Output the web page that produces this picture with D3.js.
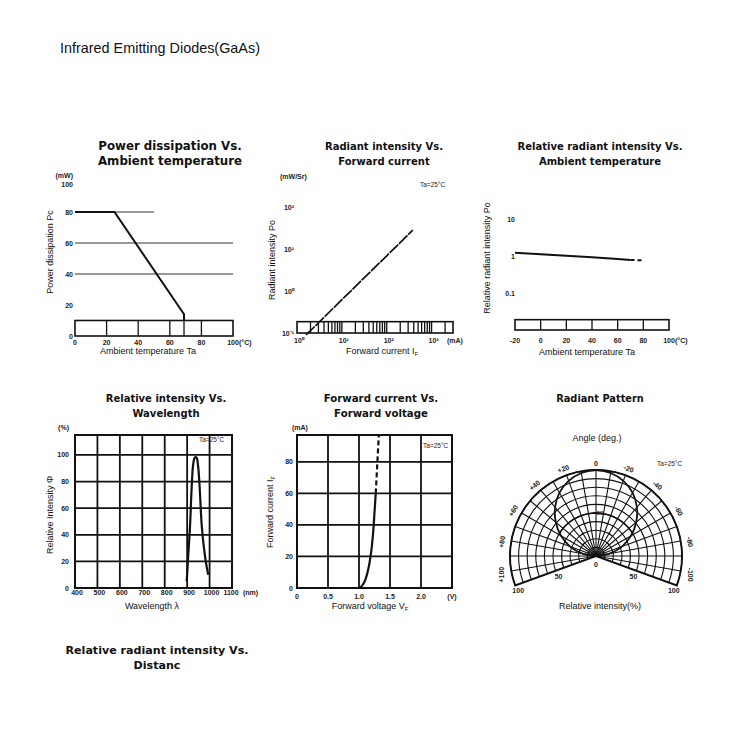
<!DOCTYPE html>
<html>
<head>
<meta charset="utf-8">
<script src="https://cdn.jsdelivr.net/npm/d3@7"></script>
<style>
  html, body { margin: 0; padding: 0; background: #fff; }
  svg { display: block; }
  .title { font-family: 'DejaVu Sans', Verdana, sans-serif; font-weight: bold; fill: #111; }
  .tick { font-family: 'Liberation Sans', Arial, sans-serif; font-size: 7px; font-weight: bold; fill: #222; }
  .label { font-family: 'Liberation Sans', Arial, sans-serif; font-size: 9px; fill: #111; }
  .note { font-family: 'Liberation Sans', Arial, sans-serif; font-size: 6.5px; fill: #222; }
</style>
</head>
<body>
<svg id="chart" width="750" height="736"></svg>
<script>
// ---- Power dissipation vs ambient temperature
const pdTicksX = [0, 20, 40, 60, 80, 100]
const pdTicksY = [0, 20, 40, 60, 80, 100]
const pdGrid = [[80, 0, 50], [60, 0, 100], [40, 0, 100]] // level, from, to
const pdBoxTop = 10
const pdBoxDividers = [20, 40, 60, 69, 80]
const pdCurve = [[0, 80], [25, 80], [69, 14], [69, 10]]

// ---- Radiant intensity vs forward current (log / log)
const riTicksX = [1, 10, 100, 1000]
const riTickLabelsX = ['10⁰', '10¹', '10²', '10³']
const riTicksY = [0.1, 1, 10, 100]
const riTickLabelsY = ['10⁻¹', '10⁰', '10¹', '10²']
const riBoxTop = 0.186
const riCurve = [[1.6, 0.09], [10, 0.62], [100, 6.9], [380, 28]]

// ---- Relative radiant intensity vs ambient temperature
const rtTicksX = [-20, 0, 20, 40, 60, 80, 100]
const rtTicksY = [0.1, 1, 10]
const rtBoxTop = 0.019
const rtBoxDividers = [0, 20, 40, 60, 80]
const rtCurve = [[-20, 1.22], [0, 1.11], [20, 1.01], [40, 0.92], [60, 0.83], [70, 0.78]]
const rtCurveDashed = [[70, 0.78], [80, 0.76]]

// ---- Relative intensity vs wavelength
const wlTicksX = [400, 500, 600, 700, 800, 900, 1000, 1100]
const wlTicksY = [0, 20, 40, 60, 80, 100]
const wlCurve = [[898, 5], [905, 25], [913, 47], [920, 75], [927, 93], [934, 98], [942, 98],
  [948, 93], [955, 78], [965, 47], [975, 30], [985, 18], [994, 10]]

// ---- Forward current vs forward voltage
const fvTicksX = [0, 0.5, 1.0, 1.5, 2.0]
const fvTickLabelsX = ['0', '0.5', '1.0', '1.5', '2.0']
const fvTicksY = [0, 20, 40, 60, 80]
const fvCurve = [[1.0, 0], [1.05, 1.5], [1.1, 5], [1.15, 12], [1.2, 24], [1.23, 36], [1.25, 48], [1.27, 60]]
const fvCurveDashed = [[1.27, 60], [1.29, 75], [1.31, 90], [1.32, 97]]

// ---- Radiant pattern (angle in deg, + = left)
const rpAngles = [-90, -80, -70, -60, -50, -40, -30, -20, -10, 0, 10, 20, 30, 40, 50, 60, 70, 80, 90]
const rpIntensity = [0, 16, 32, 47, 61, 74, 85, 93, 98, 100, 98, 93, 85, 74, 61, 47, 32, 16, 0]
const rpRings = [10, 20, 30, 40, 50, 60, 70, 80, 90, 100]
const rpSpokes = [-100, -90, -80, -70, -60, -50, -40, -30, -20, -10, 0, 10, 20, 30, 40, 50, 60, 70, 80, 90, 100]
const rpLabelAngles = [100, 80, 60, 40, 20, 0, -20, -40, -60, -80, -100]
const rpEdge = 110

const svg = d3.select('#chart')
const ink = '#111'
svg.append('rect').attr('width', 750).attr('height', 736).attr('fill', '#fff')

function text(g, x, y, str, cls, opts = {}) {
  const t = g.append('text')
    .attr('class', cls)
    .attr('x', x)
    .attr('y', y)
    .attr('text-anchor', opts.anchor || 'middle')
    .text(str)
  if (opts.size) t.style('font-size', opts.size + 'px')
  if (opts.rotate != null) t.attr('transform', `rotate(${opts.rotate},${x},${y})`)
  return t
}

// text with a subscript tail, e.g. I + F
function subText(g, x, y, main, sub, opts = {}) {
  const t = text(g, x, y, main, 'label', opts)
  t.append('tspan').attr('dy', 2).style('font-size', '6px').text(sub)
  return t
}

function title(lines, cx, cy, size) {
  lines.forEach((l, i) => text(svg, cx, cy + i * 15.3, l, 'title', { size }))
}

function plotLine(g, data, x, y, opts = {}) {
  const line = d3.line().x(d => x(d[0])).y(d => y(d[1]))
  if (opts.curve) line.curve(opts.curve)
  return g.append('path')
    .datum(data)
    .attr('d', line)
    .attr('fill', 'none')
    .attr('stroke', ink)
    .attr('stroke-width', opts.width || 2)
    .attr('stroke-dasharray', opts.dash || null)
}

// strip box at the bottom of the first three charts
function stripBox(g, x, y, x0, x1, yTop, yBottom, dividers) {
  g.append('rect')
    .attr('x', x(x0)).attr('y', y(yTop))
    .attr('width', x(x1) - x(x0)).attr('height', y(yBottom) - y(yTop))
    .attr('fill', 'none').attr('stroke', ink).attr('stroke-width', 1.6)
  g.selectAll('.divider').data(dividers).enter().append('line')
    .attr('class', 'divider')
    .attr('x1', d => x(d)).attr('x2', d => x(d))
    .attr('y1', y(yTop)).attr('y2', y(yBottom))
    .attr('stroke', ink).attr('stroke-width', 1.3)
}

// full grid with frame (charts 4 and 5)
function gridFrame(g, x, y, ticksX, ticksY) {
  const [xa, xb] = x.range()
  const [ya, yb] = y.range()
  g.selectAll('.vgrid').data(ticksX).enter().append('line')
    .attr('x1', d => x(d)).attr('x2', d => x(d)).attr('y1', ya).attr('y2', yb)
    .attr('stroke', ink).attr('stroke-width', 1.8)
  g.selectAll('.hgrid').data(ticksY).enter().append('line')
    .attr('x1', xa).attr('x2', xb).attr('y1', d => y(d)).attr('y2', d => y(d))
    .attr('stroke', ink).attr('stroke-width', 1.8)
  g.append('rect').attr('x', xa).attr('y', yb).attr('width', xb - xa).attr('height', ya - yb)
    .attr('fill', 'none').attr('stroke', ink).attr('stroke-width', 2)
}

// ---------- page title
text(svg, 60, 53, 'Infrared Emitting Diodes(GaAs)', 'label', { anchor: 'start', size: 14.4 })

// ---------- 1. Power dissipation
title(['Power dissipation Vs.', 'Ambient temperature'], 170, 150, 11.8)
{
  const g = svg.append('g').attr('class', 'chart-pd')
  const x = d3.scaleLinear().domain([0, 100]).range([75, 233])
  const y = d3.scaleLinear().domain([0, 100]).range([336, 181])
  g.selectAll('.grid').data(pdGrid).enter().append('line')
    .attr('x1', d => x(d[1])).attr('x2', d => x(d[2]))
    .attr('y1', d => y(d[0])).attr('y2', d => y(d[0]))
    .attr('stroke', '#333').attr('stroke-width', 1)
  stripBox(g, x, y, 0, 100, pdBoxTop, 0, pdBoxDividers)
  plotLine(g, pdCurve, x, y, { width: 2 })
  pdTicksY.forEach(v => text(g, 73, y(v) + 2.5 + (v === 100 ? 3 : 0), v, 'tick', { anchor: 'end' }))
  pdTicksX.forEach(v => text(g, x(v), 345, v, 'tick'))
  text(g, x(100) + 6, 345, '(°C)', 'tick', { anchor: 'start' })
  text(g, 73, 178, '(mW)', 'tick', { anchor: 'end' })
  text(g, 53, 252, 'Power dissipation   Pc', 'label', { rotate: -90 })
  text(g, 148, 354, 'Ambient temperature    Ta', 'label')
}

// ---------- 2. Radiant intensity
title(['Radiant intensity Vs.', 'Forward current'], 384, 150, 10)
{
  const g = svg.append('g').attr('class', 'chart-ri')
  const x = d3.scaleLog().domain([1, 3000]).range([297, 453])
  const y = d3.scaleLog().domain([0.1, 100]).range([333, 207])
  const minor = x.ticks().filter(d => d > 1 && d < 3000)
  stripBox(g, x, y, 1, 3000, riBoxTop, 0.1, minor)
  plotLine(g, riCurve, x, y, { width: 1.7, dash: '12 1' })
  riTicksY.forEach((v, i) => text(g, 294, y(v) + 2.5, riTickLabelsY[i], 'tick', { anchor: 'end' }))
  riTicksX.forEach((v, i) => text(g, x(v) + 2, 343, riTickLabelsX[i], 'tick'))
  text(g, 447, 343, '(mA)', 'tick', { anchor: 'start' })
  text(g, 280, 179, '(mW/Sr)', 'tick', { anchor: 'start' })
  text(g, 420, 187, 'Ta=25°C', 'note', { anchor: 'start' })
  text(g, 275, 260, 'Radiant  intensity   Po', 'label', { rotate: -90 })
  subText(g, 382, 354, 'Forward current   I', 'F')
}

// ---------- 3. Relative radiant intensity vs temperature
title(['Relative radiant intensity Vs.', 'Ambient temperature'], 600, 150, 10)
{
  const g = svg.append('g').attr('class', 'chart-rt')
  const x = d3.scaleLinear().domain([-20, 100]).range([515, 669])
  const y = d3.scaleLog().domain([0.01, 100]).range([330, 182])
  stripBox(g, x, y, -20, 100, rtBoxTop, 0.01, rtBoxDividers)
  plotLine(g, rtCurve, x, y, { width: 2 })
  plotLine(g, rtCurveDashed, x, y, { width: 2, dash: '4 3' })
  rtTicksY.forEach(v => text(g, 515, y(v) + 2.5, v, 'tick', { anchor: 'end' }))
  rtTicksX.forEach(v => text(g, x(v), 343, v, 'tick'))
  text(g, x(100) + 6, 343, '(°C)', 'tick', { anchor: 'start' })
  text(g, 490, 258, 'Relative radiant intensity   Po', 'label', { rotate: -90 })
  text(g, 587, 355, 'Ambient temperature    Ta', 'label')
}

// ---------- 4. Relative intensity vs wavelength
title(['Relative intensity Vs.', 'Wavelength'], 166, 402, 10)
{
  const g = svg.append('g').attr('class', 'chart-wl')
  const x = d3.scaleLinear().domain([400, 1100]).range([75, 232])
  const y = d3.scaleLinear().domain([0, 115]).range([588, 435])
  gridFrame(g, x, y, wlTicksX, wlTicksY)
  plotLine(g, wlCurve, x, y, { width: 2.2, curve: d3.curveCatmullRom })
  wlTicksY.forEach(v => text(g, 69, y(v) + 2.5, v, 'tick', { anchor: 'end' }))
  wlTicksX.forEach(v => text(g, x(v) + (v === 1100 ? -1 : 2), 595, v, 'tick'))
  text(g, 243, 595, '(nm)', 'tick', { anchor: 'start' })
  text(g, 69, 430, '(%)', 'tick', { anchor: 'end' })
  text(g, 199, 442, 'Ta=25°C', 'note', { anchor: 'start' })
  text(g, 53, 515, 'Relative Intensity   Φ', 'label', { rotate: -90 })
  text(g, 152, 609, 'Wavelength   λ', 'label')
}

// ---------- 5. Forward current vs forward voltage
title(['Forward current Vs.', 'Forward voltage'], 381, 402, 10.2)
{
  const g = svg.append('g').attr('class', 'chart-fv')
  const x = d3.scaleLinear().domain([0, 2.5]).range([297, 452])
  const y = d3.scaleLinear().domain([0, 97]).range([588, 435])
  gridFrame(g, x, y, fvTicksX, fvTicksY)
  plotLine(g, fvCurve, x, y, { width: 2.2, curve: d3.curveCatmullRom })
  plotLine(g, fvCurveDashed, x, y, { width: 2.2, dash: '5 3' })
  fvTicksY.forEach(v => text(g, 293, y(v) + 2.5, v, 'tick', { anchor: 'end' }))
  fvTicksX.forEach((v, i) => text(g, x(v), 599, fvTickLabelsX[i], 'tick'))
  text(g, x(2.5), 599, '(V)', 'tick')
  text(g, 292, 430, '(mA)', 'tick', { anchor: 'start' })
  text(g, 423, 448, 'Ta=25°C', 'note', { anchor: 'start' })
  subText(g, 273, 512, 'Forward current   I', 'F', { rotate: -90 })
  subText(g, 370, 609, 'Forward voltage   V', 'F')
}

// ---------- 6. Radiant pattern
title(['Radiant Pattern'], 600, 402, 9.8)
{
  const cx = 596
  const cy = 556
  const r = d3.scaleLinear().domain([0, 100]).range([0, 86])
  const rad = d => d * Math.PI / 180
  const g = svg.append('g').attr('class', 'chart-rp').attr('transform', `translate(${cx},${cy})`)

  // rings
  g.selectAll('.ring').data(rpRings).enter().append('path')
    .attr('d', d => d3.arc()({ innerRadius: r(d), outerRadius: r(d), startAngle: -rad(rpEdge), endAngle: rad(rpEdge) }))
    .attr('fill', 'none').attr('stroke', ink).attr('stroke-width', 1.1)
  // spokes (d3 angle: 0 at top, clockwise; our + angle is to the left)
  g.selectAll('.spoke').data(rpSpokes).enter().append('line')
    .attr('x1', 0).attr('y1', 0)
    .attr('x2', d => r(100) * Math.sin(rad(-d)))
    .attr('y2', d => -r(100) * Math.cos(rad(-d)))
    .attr('stroke', ink).attr('stroke-width', 1.1)
  // fan outline
  g.append('path')
    .attr('d', d3.arc()({ innerRadius: 0, outerRadius: r(100), startAngle: -rad(rpEdge), endAngle: rad(rpEdge) }))
    .attr('fill', 'none').attr('stroke', ink).attr('stroke-width', 1.9)
  // half intensity arc
  g.append('path')
    .attr('d', d3.arc()({ innerRadius: r(50), outerRadius: r(50), startAngle: -rad(60), endAngle: rad(60) }))
    .attr('fill', 'none').attr('stroke', ink).attr('stroke-width', 1.5)
  // pattern
  const pattern = rpAngles.map((a, i) => [a, rpIntensity[i]])
  g.append('path')
    .datum(pattern)
    .attr('d', d3.lineRadial().angle(d => rad(-d[0])).radius(d => r(d[1])).curve(d3.curveCardinal))
    .attr('fill', 'none').attr('stroke', ink).attr('stroke-width', 1.8)

  // angle labels
  rpLabelAngles.forEach(a => {
    const rr = r(100) + 7
    const px = rr * Math.sin(rad(-a))
    const py = -rr * Math.cos(rad(-a)) + 2.5
    const rot = Math.max(-90, Math.min(90, -a))
    const str = a > 0 ? '+' + a : String(a)
    text(g, px, py, str, 'tick', { rotate: rot })
  })
  // intensity labels along the edges
  ;[50, 100].forEach(v => {
    ;[-1, 1].forEach(s => {
      const px = s * r(v) * Math.sin(rad(rpEdge)) - s * 3
      const py = -r(v) * Math.cos(rad(rpEdge)) + 8
      text(g, px, py, v, 'tick')
    })
  })
  text(g, 0, 11, '0', 'tick')
  text(g, 4, -r(50) + 2, '50', 'tick', { size: 6 })

  text(svg, 597, 441, 'Angle (deg.)', 'label')
  text(svg, 657, 466, 'Ta=25°C', 'note', { anchor: 'start' })
  text(svg, 600, 609, 'Relative intensity(%)', 'label')
}

// ---------- bottom heading
title(['Relative radiant intensity Vs.', 'Distanc'], 157, 654, 11.1)
</script>
</body>
</html>
